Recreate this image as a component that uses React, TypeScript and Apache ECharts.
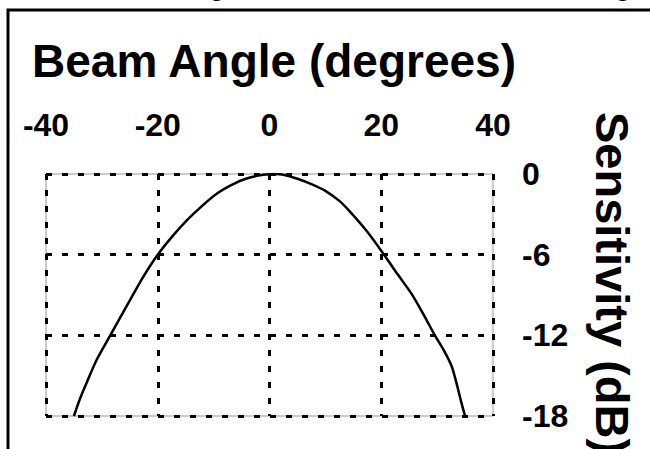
import React, { useEffect, useRef } from "react";
import * as echarts from "echarts";

const angles = [-35, -33.9, -32.7, -30.9, -28.5, -25.6, -22.6, -20, -17.2, -14.8, -12.4, -9.4, -6.5, -4.1, -1.1, 1, 2.5, 5, 7.5, 10, 12.5, 14.4, 17.5, 20.5, 23, 25.4, 27.5, 29.6, 31.3, 32.6, 33.3, 33.8, 34.4, 35];
const sensitivity = [-18, -16.7, -15.5, -13.8, -12, -9.85, -7.65, -6, -4.55, -3.45, -2.5, -1.45, -0.75, -0.33, -0.06, 0, -0.05, -0.35, -0.75, -1.25, -2.0, -2.8, -4.3, -6, -7.5, -8.9, -10.4, -12, -13.2, -14.3, -15.3, -16.1, -17.1, -18];
const xTicks = [-40, -20, 0, 20, 40];
const yTicks = [-18, -12, -6, 0];
const titleText = "Beam Angle (degrees)";
const yName = "Sensitivity (dB)";
const clippedTop = ["g", "g"];

const FONT = "'Liberation Sans', Arial, Helvetica, sans-serif";

export default function App() {
  const ref = useRef<HTMLDivElement>(null);
  useEffect(() => {
    if (!ref.current) return;
    const chart = echarts.init(ref.current, undefined, { renderer: "svg" });
    chart.setOption({
      animation: false,
      backgroundColor: "#ffffff",
      grid: {
        left: 46,
        right: 157,
        top: 174,
        bottom: 33,
        show: true,
        borderColor: "#999999",
        borderWidth: 1,
      },
      xAxis: {
        type: "value",
        position: "top",
        min: xTicks[0],
        max: xTicks[xTicks.length - 1],
        interval: 20,
        axisLine: { show: false },
        axisTick: { show: false },
        axisLabel: {
          color: "#000",
          fontSize: 32,
          fontWeight: "bold",
          fontFamily: FONT,
          margin: 33,
        },
        splitLine: {
          show: true,
          lineStyle: { color: "#000", width: 3, type: [6, 10] },
        },
      },
      yAxis: {
        type: "value",
        position: "right",
        min: yTicks[0],
        max: yTicks[yTicks.length - 1],
        interval: 6,
        axisLine: { show: false },
        axisTick: { show: false },
        axisLabel: {
          color: "#000",
          fontSize: 32,
          fontWeight: "bold",
          fontFamily: FONT,
          align: "left",
          verticalAlign: "middle",
          padding: [6, 0, 0, 0],
          margin: 29,
        },
        splitLine: {
          show: true,
          lineStyle: { color: "#000", width: 3, type: [6, 10] },
        },
      },
      series: [
        {
          type: "line",
          data: angles.map((a, i) => [a, sensitivity[i]]),
          showSymbol: false,
          smooth: 0.3,
          lineStyle: { color: "#000", width: 2.5 },
          z: 5,
        },
      ],
      graphic: [
        {
          type: "rect",
          shape: { x: 8, y: 10, width: 800, height: 600 },
          style: { fill: "none", stroke: "#000", lineWidth: 3 },
          silent: true,
        },
        {
          type: "text",
          x: 217,
          y: -1,
          style: { text: clippedTop[0], font: `30px ${FONT}`, fill: "#000", textAlign: "center", textVerticalAlign: "bottom" },
        },
        {
          type: "text",
          x: 623,
          y: -1,
          style: { text: clippedTop[1], font: `30px ${FONT}`, fill: "#000", textAlign: "center", textVerticalAlign: "bottom" },
        },
        {
          type: "text",
          x: 32,
          y: 61,
          style: {
            text: titleText,
            font: `bold 46px ${FONT}`,
            fill: "#000",
            textAlign: "left",
            textVerticalAlign: "middle",
          },
        },
        {
          type: "text",
          x: 612,
          y: 112,
          rotation: -Math.PI / 2,
          style: {
            text: yName,
            font: `bold 47px ${FONT}`,
            fill: "#000",
            textAlign: "left",
            textVerticalAlign: "middle",
          },
        },
      ],
    });
    return () => chart.dispose();
  }, []);
  return (
    <div
      ref={ref}
      style={{ position: "fixed", left: 0, top: 0, width: 650, height: 449, background: "#fff" }}
    />
  );
}
